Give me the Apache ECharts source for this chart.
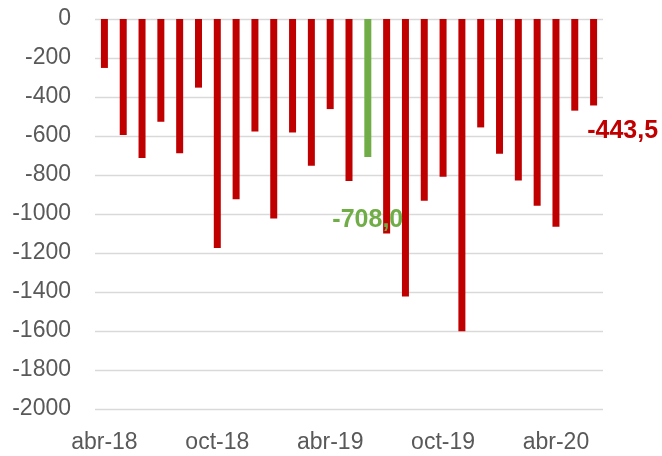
<!DOCTYPE html>
<html>
<head>
<meta charset="utf-8">
<script src="https://cdn.jsdelivr.net/npm/echarts@6/dist/echarts.min.js"></script>
<style>
  html, body { margin: 0; padding: 0; background: #ffffff; }
  #chart { width: 662px; height: 456px; }
</style>
</head>
<body>
<div id="chart"></div>
<script>
  // meses abr-18 .. jun-20
  const months = ['abr-18','may-18','jun-18','jul-18','ago-18','sep-18','oct-18','nov-18','dic-18',
    'ene-19','feb-19','mar-19','abr-19','may-19','jun-19','jul-19','ago-19','sep-19','oct-19','nov-19','dic-19',
    'ene-20','feb-20','mar-20','abr-20','may-20','jun-20'];
  const values = [-251, -595, -713, -527, -688, -352, -1174, -924, -577,
    -1023, -582, -753, -462, -831, -708, -1100, -1423, -932, -809, -1601, -556,
    -691, -828, -958, -1066, -470, -443.5];
  const greenIndex = 14;
  const yTicks = { min: -2000, max: 0, step: 200 };

  const red = '#C00000';
  const green = '#70AD47';

  function fmt(v) {
    return v.toFixed(1).replace('.', ',');
  }

  const data = values.map(function (v, i) {
    let item = { value: v, itemStyle: { color: red } };
    if (i === greenIndex) {
      item.itemStyle = { color: green };
      item.label = {
        show: true, position: 'bottom', distance: 51,
        color: green, fontWeight: 'bold', fontSize: 25,
        fontFamily: 'Liberation Sans',
        formatter: function (p) { return fmt(p.value); }
      };
    }
    if (i === values.length - 1) {
      item.label = {
        show: true, position: 'bottom', distance: 13, offset: [29, 0],
        color: red, fontWeight: 'bold', fontSize: 25,
        fontFamily: 'Liberation Sans',
        formatter: function (p) { return fmt(p.value); }
      };
    }
    return item;
  });

  let myChart = echarts.init(document.getElementById('chart'));
  myChart.setOption({
    animation: false,
    grid: { left: 95, right: 59, top: 19, bottom: 47 },
    xAxis: {
      type: 'category',
      data: months,
      position: 'bottom',
      axisLine: { show: false },
      axisTick: { show: false },
      axisLabel: {
        interval: 5,
        margin: 22,
        color: '#595959',
        fontSize: 23,
        fontFamily: 'Liberation Sans'
      }
    },
    yAxis: {
      type: 'value',
      min: yTicks.min,
      max: yTicks.max,
      interval: yTicks.step,
      axisLine: { show: false },
      axisTick: { show: false },
      axisLabel: {
        margin: 24,
        color: '#595959',
        fontSize: 23,
        fontFamily: 'Liberation Sans',
        formatter: function (v) { return String(v); }
      },
      splitLine: { lineStyle: { color: '#D9D9D9', width: 1.3 } }
    },
    series: [{
      type: 'bar',
      data: data,
      barWidth: 7
    }]
  });
</script>
</body>
</html>
